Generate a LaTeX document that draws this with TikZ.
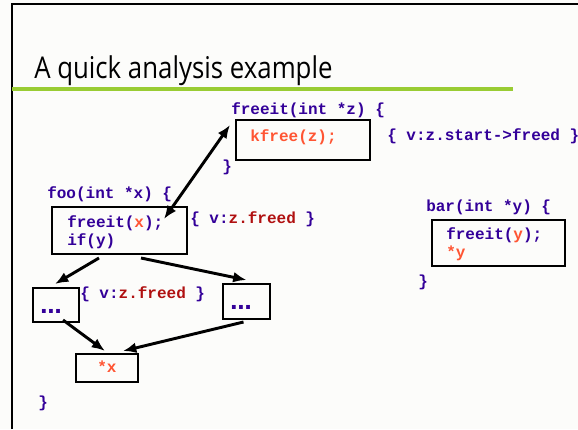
\documentclass[tikz,border=0pt]{standalone}
\usepackage{fontspec}
\setmainfont{Open Sans}
\newfontfamily\codefont{Liberation Mono}
\newfontfamily\dotfont{DejaVu Sans}
\usetikzlibrary{arrows.meta}
\usetikzlibrary{calc}
\definecolor{codeblue}{HTML}{330099}
\definecolor{hotred}{HTML}{FF5533}
\definecolor{darkred}{HTML}{B01010}
\definecolor{titlegreen}{HTML}{99CC33}
\definecolor{slidebg}{HTML}{FCFCFA}

\tikzset{
    code/.style={font=\codefont\bfseries\fontsize{12pt}{13.5pt}\selectfont, text=codeblue, inner sep=0pt, anchor=west, align=left},
    dots/.style={font=\dotfont\bfseries\fontsize{16pt}{16pt}\selectfont, text=codeblue, inner sep=0pt, anchor=base west},
    box/.style={draw, line width=1.5pt, inner sep=0pt},
    arr/.style={-{Latex[length=10pt,width=8pt]}, line width=2.2pt},
}

\begin{document}
\begin{tikzpicture}[x=0.75pt, y=-0.75pt] % Koordinaten in Pixeln, y nach unten

    % Hintergrund und Folienrahmen
    \fill[slidebg] (0,0) rectangle (578,429);
    \useasboundingbox (0,0) rectangle (578,429);
    \draw[line width=1.6pt] (12,429) -- (12,4) -- (578,4);

    % Titel mit gruener Linie
    \node[anchor=base west, inner sep=0pt, font=\fontsize{22.5pt}{26pt}\selectfont] (title) at (34,78) {\scalebox{0.86}[1]{A quick analysis example}};
    \draw[titlegreen, line width=2.4pt] (12,89) -- (513,89);

    % freeit
    \node[code] (freeithead) at (231,110) {freeit(int *z) \{};
    \node[box, minimum width={134*0.75pt}, minimum height={40*0.75pt}] (kfreebox) at (303,140) {};
    \node[code, text=hotred] (kfree) at (250,137) {kfree(z);};
    \node[code] (freeitend) at (222,167) {\}};
    \node[code] (startfreed) at (387,136) {\{ v:z.start->freed \}};

    % foo
    \node[code] (foohead) at (47,194) {foo(int *x) \{};
    \node[box, minimum width={135*0.75pt}, minimum height={47*0.75pt}] (foobox) at (119.5,230.5) {};
    \node[code] (foocall) at (67,232) {freeit(\textcolor{hotred}{x});\\if(y)};
    \node[code] (zfreed) at (190,219) {\{ v:\textcolor{darkred}{z.freed} \}};
    \node[box, minimum width={46*0.75pt}, minimum height={34*0.75pt}] (leftbox) at (56,305) {};
    \node[dots] (leftdots) at (40,313) {…};
    \node[code] (zfreedb) at (80,294) {\{ v:\textcolor{darkred}{z.freed} \}};
    \node[box, minimum width={47*0.75pt}, minimum height={35*0.75pt}] (rightbox) at (246.5,301.5) {};
    \node[dots] (rightdots) at (230,309) {…};
    \node[box, minimum width={62*0.75pt}, minimum height={28*0.75pt}] (xbox) at (107,368) {};
    \node[code, text=hotred] (deref) at (97,367) {*x};
    \node[code] (fooend) at (38,403) {\}};

    % bar
    \node[code] (barhead) at (426,207) {bar(int *y) \{};
    \node[box, minimum width={133*0.75pt}, minimum height={46*0.75pt}] (barbox) at (498.5,243) {};
    \node[code] (barcall) at (446,244) {freeit(\textcolor{hotred}{y});\\\textcolor{hotred}{*y}};
    \node[code] (barend) at (418,282) {\}};

    % Pfeile
    \draw[arr, {Latex[length=10pt,width=8pt]}-{Latex[length=10pt,width=8pt]}] ($(foobox.north east)+(-24,13)$) -- ($(kfreebox.north west)+(-5,6)$);
    \draw[arr] ($(foobox.south west)+(48,3)$) -- ($(leftbox.north)+(-1,-3)$);
    \draw[arr] ($(foobox.south west)+(90,3)$) -- ($(rightbox.north)+(0,-3)$);
    \draw[arr] ($(leftbox.south)+(7,-3)$) -- ($(xbox.north)+(-2,-2)$);
    \draw[arr] ($(rightbox.south)+(-3,2)$) -- ($(xbox.north)+(16,-2)$);
\end{tikzpicture}
\end{document}
